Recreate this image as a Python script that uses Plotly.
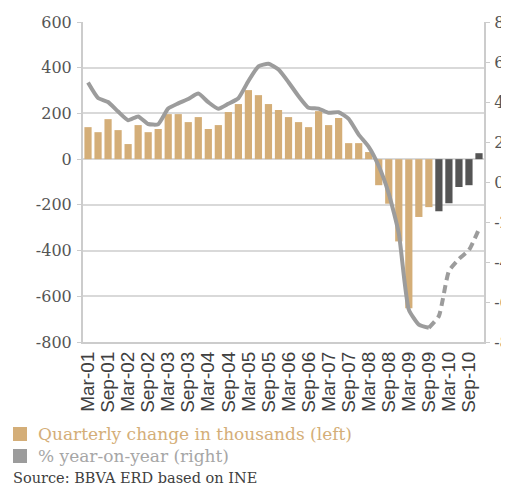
import plotly.graph_objects as go

# ---------------- data ----------------
months = ["Mar", "Jun", "Sep", "Dec"]
categories = [f"{m}-{y:02d}" for y in range(1, 11) for m in months]  # Mar-01 .. Dec-10

# Quarterly change in employment, thousands (left axis)
quarterly_change = [
    140, 118, 175, 127, 66, 149, 118, 132, 197, 197,
    162, 184, 132, 149, 206, 241, 302, 280, 241, 215,
    184, 162, 140, 210, 149, 180, 70, 70, 31, -114,
    -195, -360, -652, -253, -210, -228, -193, -122, -114, 26,
]

# % year-on-year (right axis)
yoy_pct = [
    4.97, 4.20, 4.00, 3.52, 3.09, 3.28, 2.90, 2.89, 3.67, 3.93,
    4.15, 4.42, 3.99, 3.66, 3.91, 4.19, 5.05, 5.78, 5.91, 5.62,
    4.99, 4.29, 3.71, 3.67, 3.46, 3.49, 3.16, 2.37, 1.76, 0.80,
    -0.58, -2.57, -6.38, -7.13, -7.29, -6.70, -4.45, -3.85, -3.40, -2.35,
]

solid_until = 34          # last index of the solid part of the line
dark_from = 35            # bars drawn dark from this index on

left_ticks = [600, 400, 200, 0, -200, -400, -600, -800]
right_ticks = [8, 6, 4, 2, 0, -2, -4, -6, -8]
x_label_cats = categories[::2]

legend_bar = "Quarterly change in thousands (left)"
legend_line = "% year-on-year (right)"
source_text = "Source: BBVA ERD based on INE"
title_text = "Employment"

# ---------------- style ----------------
TAN = "#D4AE78"
DARK = "#555555"
LINE = "#9C9C9C"
GRID = "#D9D9D9"
AXIS = "#CCCCCC"
OFF = 8                      # page body margin
W, H = 509 - OFF, 490 - OFF
L, R, T, B = 83 - OFF, 25, 22 - OFF, 148
PW, PH = W - L - R, H - T - B
X0, Y1 = L + OFF, H + OFF - B   # plot area left / bottom on screen

def px(x):
    return (x - X0) / PW

def py(y):
    return (Y1 - y) / PH

bar_colors = [TAN if i < dark_from else DARK for i in range(len(categories))]

fig = go.Figure()
fig.add_trace(go.Bar(
    x=categories, y=quarterly_change, marker=dict(color=bar_colors, line=dict(width=0)),
    width=0.72, yaxis="y", hoverinfo="skip",
))
fig.add_trace(go.Scatter(
    x=categories[:solid_until + 1], y=yoy_pct[:solid_until + 1], mode="lines",
    line=dict(color=LINE, width=4, shape="spline", smoothing=0.5), yaxis="y2",
))
fig.add_trace(go.Scatter(
    x=categories[solid_until:], y=yoy_pct[solid_until:], mode="lines",
    line=dict(color=LINE, width=4, shape="spline", smoothing=0.5, dash="8px,5px"), yaxis="y2",
))

tick_font = dict(family="DejaVu Serif", size=16, color="#555555")

fig.update_layout(
    width=W, height=H,
    margin=dict(l=L, r=R, t=T, b=B, pad=0, autoexpand=False),
    paper_bgcolor="white", plot_bgcolor="white",
    showlegend=False, bargap=0.28,
    xaxis=dict(
        type="category", range=[-0.5, 39.5], automargin=False,
        tickmode="array", tickvals=x_label_cats, ticktext=x_label_cats,
        tickangle=-90, ticks="",
        tickfont=dict(family="Liberation Sans", size=19, color="#404040"),
        showline=True, linecolor=AXIS, linewidth=2, showgrid=False, zeroline=False,
    ),
    xaxis2=dict(
        overlaying="x", anchor="free", position=800 / 1400, automargin=False,
        range=[-0.5, 39.5], tickmode="linear", tick0=-0.5, dtick=1,
        ticks="outside", ticklen=5, tickwidth=1.5, tickcolor=AXIS,
        showticklabels=False, showline=True, linecolor=AXIS, linewidth=2,
        showgrid=False, zeroline=False,
    ),
    yaxis=dict(
        range=[-800, 600], tickmode="array", tickvals=left_ticks, automargin=False,
        ticktext=[str(v) for v in left_ticks],
        showgrid=True, gridcolor=GRID, gridwidth=1.5, zeroline=False,
        showline=True, linecolor=AXIS, linewidth=2,
        ticks="outside", ticklen=4, tickcolor=AXIS, tickfont=tick_font,
        ticklabelstandoff=2,
    ),
    yaxis2=dict(
        overlaying="y", side="right", range=[-8, 8], tickmode="array", automargin=False,
        tickvals=right_ticks, ticktext=[str(v) for v in right_ticks],
        showgrid=False, zeroline=False, showline=True, linecolor=AXIS, linewidth=2,
        ticks="outside", ticklen=4, tickcolor=AXIS, tickfont=tick_font,
        ticklabelstandoff=1,
    ),
    shapes=[
        dict(type="rect", xref="paper", yref="paper", x0=px(13), x1=px(27), y0=py(441), y1=py(427),
             fillcolor=TAN, line=dict(width=0)),
        dict(type="rect", xref="paper", yref="paper", x0=px(13), x1=px(27), y0=py(463), y1=py(449),
             fillcolor=LINE, line=dict(width=0)),
    ],
    annotations=[
        dict(text=legend_bar, xref="paper", yref="paper", x=px(36), y=py(434), xanchor="left", yanchor="middle",
             showarrow=False, font=dict(family="DejaVu Serif", size=17, color=TAN)),
        dict(text=legend_line, xref="paper", yref="paper", x=px(36), y=py(456), xanchor="left", yanchor="middle",
             showarrow=False, font=dict(family="DejaVu Serif", size=17, color="#A6A6A6")),
        dict(text=source_text, xref="paper", yref="paper", x=px(11), y=py(478), xanchor="left", yanchor="middle",
             showarrow=False, font=dict(family="DejaVu Serif", size=14.5, color="#404040")),
        dict(text=title_text, xref="paper", yref="paper", x=px(11), y=py(7), xanchor="left", yanchor="bottom",
             showarrow=False, font=dict(family="DejaVu Serif", size=24.5, color=TAN)),
    ],
)

fig.write_html("out.html")
